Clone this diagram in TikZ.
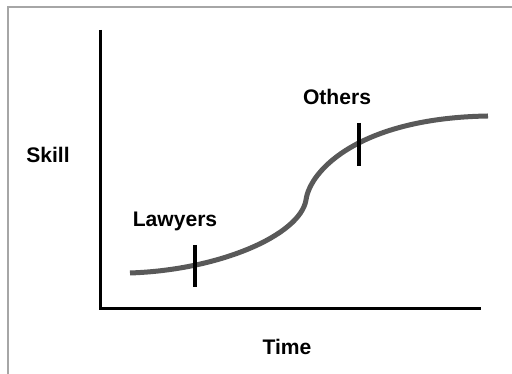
\documentclass[tikz,border=0pt]{standalone}
\usepackage{fontspec}
\setmainfont{Liberation Sans}
\usepackage{tikz}
\usetikzlibrary{calc}

\begin{document}
\begin{tikzpicture}[x=0.02cm, y=-0.02cm]
		%%%%% START %%%%%
		\useasboundingbox (0, 0) rectangle (512, 374);
		
		\draw[line width=0.4mm, color=black!35] (8, 7) rectangle (530, 390);
		
		\coordinate (origin) at (101, 309);
		\coordinate (ytop) at (101, 30);
		\coordinate (xend) at (481, 309);
		\draw[line width=0.6mm, line join=miter] (ytop) -- (origin) -- (xend);
		
		\node[anchor=base, font=\fontsize{12}{14}\selectfont\bfseries] (skill) at (48, 163) {Skill};
		\node[anchor=base, font=\fontsize{12}{14}\selectfont\bfseries] (time) at (287, 355) {Time};
		
		\draw[line width=1mm, color=black!65] (130, 273) .. controls (220, 270) and (300, 235) .. (306, 200)
			.. controls (310, 170) and (360, 118) .. (488, 116);
		
		\draw[line width=0.8mm] (195, 245) -- (195, 287);
		\node[anchor=base, font=\fontsize{12}{14}\selectfont\bfseries] (lawyers) at (175, 227) {Lawyers};
		
		\draw[line width=0.8mm] (359, 123) -- (359, 166);
		\node[anchor=base, font=\fontsize{12}{14}\selectfont\bfseries] (others) at (337, 105) {Others};
		
		%%%%% END %%%%%
	\end{tikzpicture}
\end{document}
